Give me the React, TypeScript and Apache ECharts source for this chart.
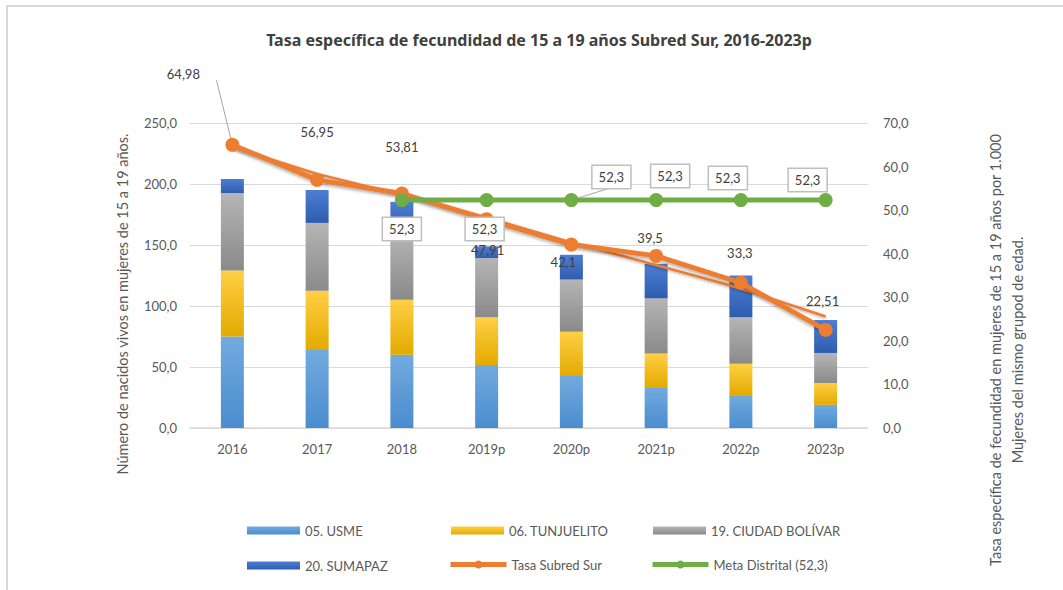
import React, { useEffect, useRef } from "react";
import * as echarts from "echarts";

const categories = ["2016", "2017", "2018", "2019p", "2020p", "2021p", "2022p", "2023p"];
const usme = [75.0, 64.0, 60.0, 51.6, 42.6, 33.5, 26.9, 19.0];
const tunjuelito = [54.1, 48.6, 45.2, 39.1, 36.2, 27.5, 25.8, 17.8];
const ciudadBolivar = [63.5, 55.5, 55.0, 48.6, 42.9, 45.3, 38.0, 24.7];
const sumapaz = [11.5, 27.0, 25.2, 9.6, 20.3, 28.3, 34.3, 27.0];
const tasaSubredSur = [64.98, 56.95, 53.81, 47.91, 42.1, 39.5, 33.3, 22.51];
const metaDistrital = [null, null, 52.3, 52.3, 52.3, 52.3, 52.3, 52.3];
const tendencia = [64.5, 58.3, 53.5, 48.3, 42.6, 37.4, 32.0, 25.6];

const leftTicks = { min: 0, max: 250, interval: 50 };
const rightTicks = { min: 0, max: 70, interval: 10 };

// label placement (styling only)
const tasaLabelOffsets = [[-49, -71], [0, -48], [0, -47], [1, 31], [-8, 17], [-6, -18], [-1, -30], [-3, -29]];
const metaLabelOffsets = [[0, 0], [0, 0], [0, 29], [-2, 29], [40, -23], [14, -24], [-13, -22], [-18, -20]];

const FONT = "Lato, 'Noto Sans', sans-serif";
const fmt = (v: number) => String(v).replace(".", ",");
const fmt1 = (v: number) => v.toFixed(1).replace(".", ",");

const grad = (a: string, b: string) =>
  new echarts.graphic.LinearGradient(0, 0, 0, 1, [
    { offset: 0, color: a },
    { offset: 1, color: b },
  ]);

export default function App() {
  const ref = useRef<HTMLDivElement>(null);
  useEffect(() => {
    document.body.style.margin = "0";
    const chart = echarts.init(ref.current!, null, { renderer: "svg" });
    const labelText = { color: "#404040", fontSize: 13, fontFamily: FONT };
    const barSeries = (name: string, data: number[], c1: string, c2: string) => ({
      name,
      type: "bar",
      stack: "total",
      barWidth: 23,
      data,
      itemStyle: { color: grad(c1, c2) },
      z: 2,
    });
    const legendBase = {
      padding: 0,
      selectedMode: false,
      textStyle: { color: "#595959", fontSize: 13, fontFamily: FONT },
    };
    const metaData: any[] = metaDistrital.map((v, i) =>
      v == null
        ? "-"
        : {
            value: v,
            label: { offset: metaLabelOffsets[i] },
            labelLine: i === 4 ? { show: true, lineStyle: { color: "#a6a6a6", width: 1 } } : { show: false },
          }
    );
    const option = {
      animation: false,
      backgroundColor: "#ffffff",
      textStyle: { fontFamily: FONT },
      graphic: [
        {
          type: "rect",
          shape: { x: 7, y: 6, width: 1100, height: 700 },
          style: { fill: "none", stroke: "#d9d9d9", lineWidth: 2 },
          silent: true,
        },
        {
          type: "text",
          x: 539,
          y: 40,
          style: {
            text: "Tasa específica de fecundidad de 15 a 19 años Subred Sur, 2016-2023p",
            fill: "#404040",
            font: `bold 16px 'Noto Sans', sans-serif`,
            textAlign: "center",
            textVerticalAlign: "middle",
          },
        },
        {
          type: "text",
          x: 122,
          y: 304,
          rotation: Math.PI / 2,
          style: {
            text: "Número de nacidos vivos en mujeres de 15 a 19 años.",
            fill: "#595959",
            font: `14.5px ${FONT}`,
            textAlign: "center",
            textVerticalAlign: "middle",
          },
        },
        {
          type: "text",
          x: 1006,
          y: 350,
          rotation: Math.PI / 2,
          style: {
            text:
              "Tasa específica de fecundidad en mujeres de 15 a 19 años por 1.000\nMujeres del mismo grupod de edad.",
            fill: "#595959",
            font: `14.5px ${FONT}`,
            lineHeight: 22,
            textAlign: "center",
            textVerticalAlign: "middle",
          },
        },
      ],
      grid: { left: 190, right: 195, top: 123, bottom: 162 },
      legend: [
        { ...legendBase, data: ["05. USME"], left: 247, top: 524, itemWidth: 53, itemHeight: 8, icon: "rect" },
        { ...legendBase, data: ["06. TUNJUELITO"], left: 451, top: 524, itemWidth: 53, itemHeight: 8, icon: "rect" },
        { ...legendBase, data: ["19. CIUDAD BOLÍVAR"], left: 653, top: 524, itemWidth: 53, itemHeight: 8, icon: "rect" },
        { ...legendBase, data: ["20. SUMAPAZ"], left: 247, top: 559, itemWidth: 53, itemHeight: 8, icon: "rect" },
        {
          ...legendBase,
          data: ["Tasa Subred Sur"],
          left: 448,
          top: 558,
          itemWidth: 56,
          itemHeight: 10,
          lineStyle: { width: 5 },
        },
        {
          ...legendBase,
          data: ["Meta Distrital (52,3)"],
          left: 650,
          top: 558,
          itemWidth: 56,
          itemHeight: 10,
          lineStyle: { width: 5 },
        },
      ],
      xAxis: {
        type: "category",
        data: categories,
        axisLine: { lineStyle: { color: "#d9d9d9", width: 1.5 } },
        axisTick: { show: false },
        axisLabel: { color: "#595959", fontSize: 13, fontFamily: FONT, margin: 14 },
      },
      yAxis: [
        {
          type: "value",
          ...leftTicks,
          axisLine: { show: false },
          axisTick: { show: false },
          splitLine: { lineStyle: { color: "#d9d9d9", width: 1 } },
          axisLabel: { color: "#595959", fontSize: 13, fontFamily: FONT, margin: 13, formatter: fmt1 },
        },
        {
          type: "value",
          ...rightTicks,
          position: "right",
          axisLine: { show: false },
          axisTick: { show: false },
          splitLine: { show: false },
          axisLabel: { color: "#595959", fontSize: 13, fontFamily: FONT, margin: 15, formatter: fmt1 },
        },
      ],
      series: [
        barSeries("05. USME", usme, "#72aade", "#4a8dcf"),
        barSeries("06. TUNJUELITO", tunjuelito, "#ffcf45", "#e3aa00"),
        barSeries("19. CIUDAD BOLÍVAR", ciudadBolivar, "#b5b5b5", "#8a8a8a"),
        barSeries("20. SUMAPAZ", sumapaz, "#4d7ed3", "#2e5db0"),
        {
          name: "tendencia",
          type: "line",
          yAxisIndex: 1,
          data: tendencia,
          symbol: "none",
          lineStyle: { color: "#ed7d31", width: 2.5, shadowColor: "rgba(0,0,0,0.35)", shadowBlur: 3, shadowOffsetY: 1 },
          z: 3,
          silent: true,
        },
        {
          name: "Tasa Subred Sur",
          type: "line",
          yAxisIndex: 1,
          data: tasaSubredSur.map((v, i) => ({
            value: v,
            label: { offset: tasaLabelOffsets[i] },
            labelLine:
              i === 0 ? { show: true, lineStyle: { color: "#a6a6a6", width: 1 } } : { show: false },
          })),
          symbol: "circle",
          symbolSize: 14,
          color: "#ed7d31",
          itemStyle: { color: "#ed7d31" },
          lineStyle: { color: "#ed7d31", width: 5, shadowColor: "rgba(0,0,0,0.3)", shadowBlur: 3, shadowOffsetY: 2 },
          label: {
            show: true,
            position: "inside",
            formatter: (p: any) => fmt(p.value),
            ...labelText,
          },
          z: 5,
        },
        {
          name: "Meta Distrital (52,3)",
          type: "line",
          yAxisIndex: 1,
          data: metaData,
          symbol: "circle",
          symbolSize: 14,
          showAllSymbol: true,
          color: "#70ad47",
          itemStyle: { color: "#70ad47" },
          lineStyle: { color: "#70ad47", width: 5 },
          label: {
            show: true,
            position: "inside",
            formatter: (p: any) => fmt(p.value),
            ...labelText,
            backgroundColor: "#ffffff",
            borderColor: "#bfbfbf",
            borderWidth: 1.5,
            padding: [5, 6, 4, 6],
          },
          z: 6,
        },
      ],
    };
    chart.setOption(option as any);
    return () => chart.dispose();
  }, []);
  return <div ref={ref} style={{ width: 1063, height: 590 }} />;
}
